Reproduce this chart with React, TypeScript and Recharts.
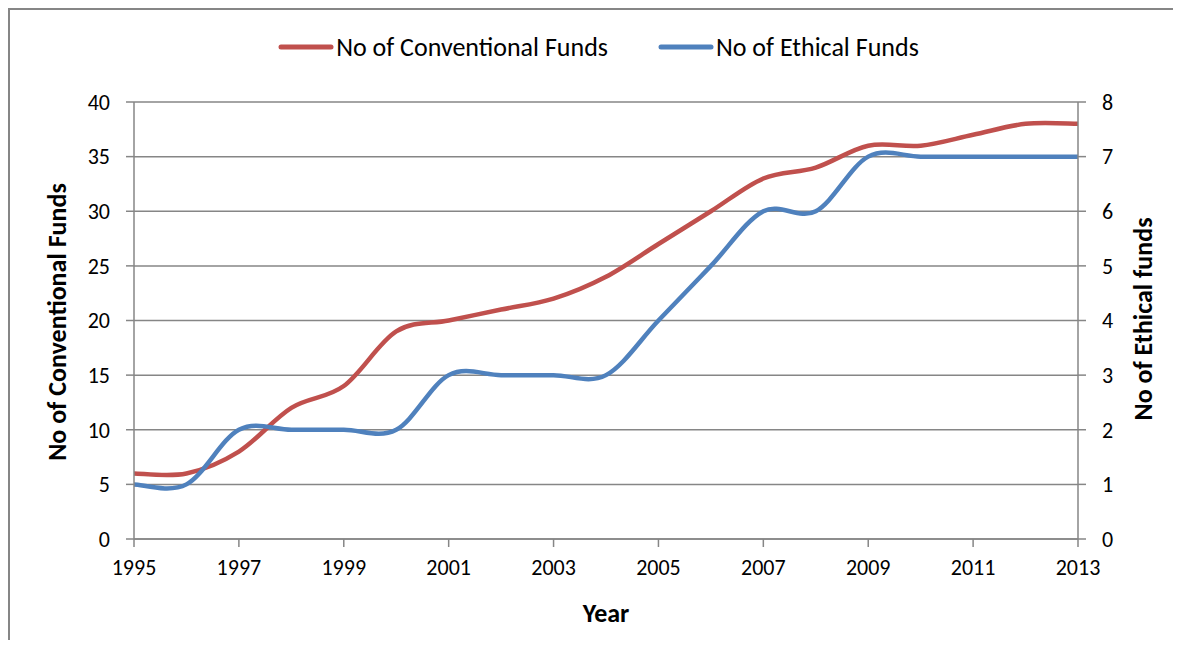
import React from 'react';
import { LineChart, Line, XAxis, YAxis, CartesianGrid, Legend } from 'recharts';

const years = [1995, 1996, 1997, 1998, 1999, 2000, 2001, 2002, 2003, 2004, 2005, 2006, 2007, 2008, 2009, 2010, 2011, 2012, 2013];
const conventional = [6, 6, 8, 12, 14, 19, 20, 21, 22, 24, 27, 30, 33, 34, 36, 36, 37, 38, 38];
const ethical = [1, 1, 2, 2, 2, 2, 3, 3, 3, 3, 4, 5, 6, 6, 7, 7, 7, 7, 7];

const yearTicks = [1995, 1997, 1999, 2001, 2003, 2005, 2007, 2009, 2011, 2013];
const leftTicks = [0, 5, 10, 15, 20, 25, 30, 35, 40];
const rightTicks = [0, 1, 2, 3, 4, 5, 6, 7, 8];

const data = years.map((year, i) => ({ year, conv: conventional[i], eth: ethical[i] }));

const RED = '#C0504D';
const BLUE = '#4F81BD';
const GRID = '#868686';
const FONT = 'Carlito, Lato, sans-serif';

// Excel-style smoothed line (Catmull-Rom as cubic beziers)
const smoothCurve = (context: any) => {
  let pts: [number, number][] = [];
  return {
    areaStart() {},
    areaEnd() {},
    lineStart() {
      pts = [];
    },
    point(x: number, y: number) {
      pts.push([+x, +y]);
    },
    lineEnd() {
      if (!pts.length) return;
      context.moveTo(pts[0][0], pts[0][1]);
      for (let i = 0; i < pts.length - 1; i++) {
        const p0 = pts[Math.max(i - 1, 0)];
        const p1 = pts[i];
        const p2 = pts[i + 1];
        const p3 = pts[Math.min(i + 2, pts.length - 1)];
        context.bezierCurveTo(
          p1[0] + (p2[0] - p0[0]) / 6,
          p1[1] + (p2[1] - p0[1]) / 6,
          p2[0] - (p3[0] - p1[0]) / 6,
          p2[1] - (p3[1] - p1[1]) / 6,
          p2[0],
          p2[1]
        );
      }
    },
  };
};

const legendItems = [
  { label: 'No of Conventional Funds', color: RED },
  { label: 'No of Ethical Funds', color: BLUE },
];

const LegendContent = () => (
  <div style={{ display: 'flex', justifyContent: 'center', alignItems: 'center', gap: 50, paddingLeft: 14, fontFamily: FONT, fontSize: 26, color: '#000' }}>
    {legendItems.map((item) => (
      <div key={item.label} style={{ display: 'flex', alignItems: 'center' }}>
        <svg width={56} height={10} style={{ marginRight: 2 }}>
          <line x1={3} y1={5} x2={53} y2={5} stroke={item.color} strokeWidth={5} strokeLinecap="round" />
        </svg>
        <span>{item.label}</span>
      </div>
    ))}
  </div>
);

const titleStyle: React.CSSProperties = {
  position: 'absolute',
  fontFamily: FONT,
  fontWeight: 700,
  fontSize: 26,
  color: '#000',
  whiteSpace: 'nowrap',
};

export default function App() {
  const tick = { fill: '#000', fontSize: 22, fontFamily: FONT };
  return (
    <div style={{ position: 'relative', width: 1165, height: 632, overflow: 'hidden', background: '#fff' }}>
      {/* outer chart frame: only its top and left edges are in view */}
      <div style={{ position: 'absolute', left: 0, top: 0, width: 1400, height: 800, border: `2px solid ${GRID}`, boxSizing: 'border-box' }} />
      <div style={{ position: 'absolute', left: 2, top: 2 }}>
        <LineChart width={1163} height={630} data={data} margin={{ top: 92, right: 0, bottom: 61, left: 0 }}>
          <CartesianGrid vertical={false} stroke={GRID} strokeWidth={1.5} yAxisId="left" />
          <XAxis
            dataKey="year"
            type="number"
            domain={[1995, 2013]}
            ticks={yearTicks}
            height={40}
            tick={tick}
            tickSize={8}
            tickMargin={12}
            stroke={GRID}
            strokeWidth={1.5}
            allowDataOverflow
          />
          <YAxis
            yAxisId="left"
            orientation="left"
            width={124}
            domain={[0, 40]}
            ticks={leftTicks}
            tick={tick}
            tickSize={8}
            tickMargin={16}
            stroke={GRID}
            strokeWidth={1.5}
          />
          <YAxis
            yAxisId="right"
            orientation="right"
            width={95}
            domain={[0, 8]}
            ticks={rightTicks}
            tick={tick}
            tickSize={8}
            tickMargin={16}
            stroke={GRID}
            strokeWidth={1.5}
          />
          <Legend
            verticalAlign="middle"
            align="center"
            layout="horizontal"
            content={<LegendContent />}
            wrapperStyle={{ top: 21, left: 0, width: 1163 }}
          />
          <Line
            yAxisId="left"
            dataKey="conv"
            type={smoothCurve as any}
            stroke={RED}
            strokeWidth={4.5}
            dot={false}
            activeDot={false}
            isAnimationActive={false}
          />
          <Line
            yAxisId="right"
            dataKey="eth"
            type={smoothCurve as any}
            stroke={BLUE}
            strokeWidth={4.5}
            dot={false}
            activeDot={false}
            isAnimationActive={false}
          />
        </LineChart>
        <div style={{ ...titleStyle, left: 596, top: 603, transform: 'translate(-50%, -50%)' }}>Year</div>
        <div style={{ ...titleStyle, left: 47, top: 312, transform: 'translate(-50%, -50%) rotate(-90deg)' }}>
          No of Conventional Funds
        </div>
        <div style={{ ...titleStyle, left: 1133, top: 309, transform: 'translate(-50%, -50%) rotate(-90deg)' }}>
          No of Ethical funds
        </div>
      </div>
    </div>
  );
}
